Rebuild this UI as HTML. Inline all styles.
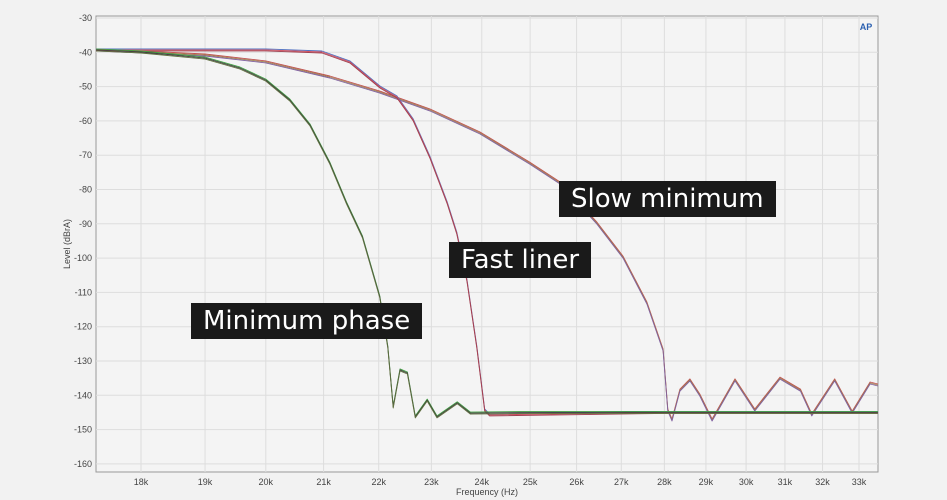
<!DOCTYPE html>
<html><head><meta charset="utf-8"><style>
body{margin:0;background:#f2f2f2;font-family:"Liberation Sans",sans-serif}
.lab{position:absolute;background:#1a1a1a;color:#fff;font-family:"DejaVu Sans","Liberation Sans",sans-serif;font-size:26px;line-height:36px;padding:0 12px;white-space:nowrap}
</style></head><body>
<div style="position:relative;width:947px;height:500px;overflow:hidden">
<svg id="c" width="947" height="500" style="position:absolute;left:0;top:0"></svg>
<div class="lab" style="left:559px;top:181px">Slow minimum</div>
<div class="lab" style="left:449px;top:242px">Fast liner</div>
<div class="lab" style="left:191px;top:303px">Minimum phase</div>
</div>
<script>
const xTicks=[18,19,20,21,22,23,24,25,26,27,28,29,30,31,32,33];
const yTicks=[-30,-40,-50,-60,-70,-80,-90,-100,-110,-120,-130,-140,-150,-160];
const minF=[17.33,18,19,19.57,20,20.41,20.76,21.11,21.41,21.70,22.02,22.17,22.27,22.40,22.54,22.69,22.92,23.11,23.51,23.77,25,28,33.53];
const minV=[-39.3,-39.9,-41.7,-44.6,-48.1,-53.9,-61.2,-72.3,-83.9,-93.8,-111.3,-125.9,-143.4,-132.6,-133.5,-146.3,-141.4,-146.3,-142.2,-145.2,-145,-145,-145];
const fastF=[17.33,19,20,20.97,21.47,22.02,22.34,22.65,22.97,23.31,23.50,23.70,23.90,24.06,24.16,28,33.53];
const fastV=[-39.3,-39.3,-39.3,-39.9,-42.8,-50.1,-53.0,-59.7,-70.5,-83.9,-92.7,-106.4,-125.9,-144.3,-145.7,-145,-145];
const slowF=[17.33,19,20,21.11,22.02,22.97,23.96,24.99,25.64,26.45,27.04,27.59,27.97,28.08,28.18,28.37,28.61,28.85,29.15,29.72,30.22,30.87,31.41,31.71,32.33,32.81,33.31,33.53];
const slowV=[-39.3,-40.8,-42.8,-47.2,-51.6,-56.8,-63.5,-72.3,-78.1,-89.8,-99.7,-113.1,-126.8,-144.3,-147.2,-138.5,-135.5,-139.9,-147.2,-135.5,-144.3,-135,-138.5,-145.7,-135.5,-144.9,-136.4,-137];
const L=96,R=878,T=16,B=472;
const X=f=>141+Math.log(f/18)/Math.log(33/18)*718;
const Y=v=>18+(-30-v)/10*34.3;
const s=document.getElementById('c');const NS='http://www.w3.org/2000/svg';
function el(t,a,p){const e=document.createElementNS(NS,t);for(const k in a)e.setAttribute(k,a[k]);(p||s).appendChild(e);return e;}
const bg=el('rect',{x:L,y:T,width:R-L,height:B-T,fill:'#f4f4f4',stroke:'#999','stroke-width':1});


yTicks.forEach(v=>{
 const g=el('line',{x1:L,x2:R,y1:Y(v),y2:Y(v),stroke:'#ddd'});
 
 
 const t=el('text',{x:92,y:Y(v)+3,'text-anchor':'end','font-size':9,fill:'#444'});t.textContent=v;
 
 
});
xTicks.forEach(f=>{
 const g=el('line',{x1:X(f),x2:X(f),y1:T,y2:B,stroke:'#ddd'});
 
 
 const t=el('text',{x:X(f),y:485,'text-anchor':'middle','font-size':9,fill:'#444'});t.textContent=f+'k';
 
 
});
const xt=el('text',{x:487,y:495,'text-anchor':'middle','font-size':9,fill:'#444'});xt.textContent='Frequency (Hz)';


const yt=el('text',{x:0,y:0,'text-anchor':'middle','font-size':9,fill:'#444',transform:'translate(70,244) rotate(-90)'});yt.textContent='Level (dBrA)';


function series(F,V,cols,name){
 cols.forEach((c,i)=>{
  const d=F.map((f,j)=>(j?'L':'M')+X(f).toFixed(1)+','+(Y(V[j])+(i-1)*1.0).toFixed(1)).join('');
  const p=el('path',{d:d,fill:'none',stroke:c,'stroke-width':0.9,'stroke-linejoin':'round'});
  
  
 });
}
series(slowF,slowV,['#c05050','#a08050','#8060a0'],'slow-minimum');
series(fastF,fastV,['#5070c0','#d05060','#a04050'],'fast-liner');
series(minF,minV,['#40a040','#404040','#607040'],'minimum-phase');
const lg=el('text',{x:866,y:30,'text-anchor':'middle','font-size':9,'font-weight':'bold',fill:'#2a5fb0'});lg.textContent='AP';


</script>
</body></html>
